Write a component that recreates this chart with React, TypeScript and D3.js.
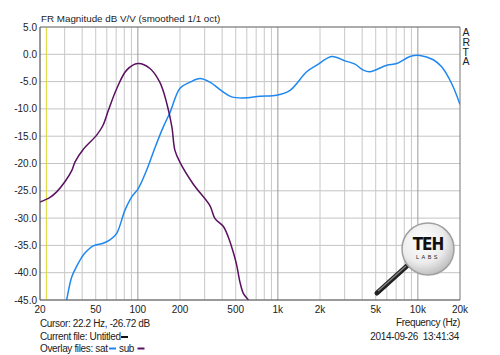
import React from "react";
import * as d3 from "d3";

const subFreq = [20, 23.6, 26.3, 30.2, 33.7, 35.6, 40.8, 50.8, 56.4, 61.5, 70.6, 83.2, 100, 122, 144, 161, 175, 184, 200, 249, 327, 356, 407, 443, 481, 508, 537, 567, 615, 650];
const subDb = [-27.05, -26.2, -25.2, -23.3, -21.3, -19.7, -17.4, -14.8, -13.0, -10.3, -6.3, -2.9, -1.7, -2.6, -5.2, -9.0, -13.3, -17.6, -19.8, -23.8, -27.7, -30.1, -31.5, -33.5, -36.3, -38.6, -41.8, -43.8, -45.0, -46];

const satFreq = [29.5, 31.0, 33.7, 36.6, 39.7, 41.9, 48.0, 56.6, 63.2, 70.6, 81, 90.4, 100.6, 115.6, 132.5, 152, 170, 200, 236, 278, 327, 397, 468, 567, 745, 980, 1222, 1607, 1894, 2427, 3020, 3557, 4075, 4550, 5990, 7060, 8790, 10350, 12890, 14790, 17460, 20000];
const satDb = [-48, -45, -40.8, -38.8, -37.2, -36.4, -35.1, -34.6, -34.0, -32.8, -28.5, -26.1, -24.6, -21.2, -17.1, -13.3, -10.6, -6.2, -5.1, -4.45, -5.1, -6.7, -7.8, -8.0, -7.7, -7.5, -6.6, -3.2, -2.0, -0.4, -1.2, -1.8, -2.9, -3.2, -2.0, -1.7, -0.4, -0.2, -1.0, -2.3, -5.4, -9.2];

const yTicks = [5, 0, -5, -10, -15, -20, -25, -30, -35, -40, -45];
const xTickVals = [20, 50, 100, 200, 500, 1000, 2000, 5000, 10000, 20000];
const xTickLabels = ["20", "50", "100", "200", "500", "1k", "2k", "5k", "10k", "20k"];

const title = "FR Magnitude dB V/V (smoothed 1/1 oct)";
const cursorFreq = 22.2;
const artaLetters = ["A", "R", "T", "A"];

const L = 40, R = 460, T = 27, B = 300;
const FONT = "'Liberation Sans', Arial, sans-serif";
const BLUE = "#1e88f0";
const PURPLE = "#5a1060";

export default function App() {
  const x = d3.scaleLog().domain([20, 20000]).range([L, R]);
  const y = d3.scaleLinear().domain([5, -45]).range([T, B]);

  const gridF: number[] = [];
  for (const dec of [10, 100, 1000, 10000]) {
    for (let m = 1; m <= 9; m++) {
      const f = dec * m;
      if (f > 20 && f < 20000) gridF.push(f);
    }
  }
  const isDecade = (f: number) => Math.abs(Math.log10(f) - Math.round(Math.log10(f))) < 1e-9;

  const line = d3
    .line<[number, number]>()
    .x((d) => x(d[0]))
    .y((d) => y(d[1]))
    .curve(d3.curveCatmullRom.alpha(0.5));

  const subPath = line(subFreq.map((f, i) => [f, subDb[i]] as [number, number])) || "";
  const satPath = line(satFreq.map((f, i) => [f, satDb[i]] as [number, number])) || "";

  const bt = { fontSize: 10, letterSpacing: -0.35, fill: "#222" } as const;

  return (
    <div style={{ position: "absolute", left: 0, top: 0 }}>
      <svg width={500} height={355} style={{ display: "block", background: "#fff" }} fontFamily={FONT}>
        <defs>
          <clipPath id="plotclip">
            <rect x={L} y={T} width={R - L} height={B - T} />
          </clipPath>
          <radialGradient id="lens" cx="40%" cy="35%" r="70%">
            <stop offset="0%" stopColor="#ffffff" />
            <stop offset="60%" stopColor="#ececec" />
            <stop offset="100%" stopColor="#b8b8b8" />
          </radialGradient>
        </defs>

        {yTicks.map((v) => (
          <line key={"h" + v} x1={L} x2={R} y1={y(v)} y2={y(v)} stroke="#c4c4c4" strokeWidth={1} />
        ))}
        {gridF.map((f) => (
          <line
            key={"v" + f}
            x1={x(f)}
            x2={x(f)}
            y1={T}
            y2={B}
            stroke={isDecade(f) ? "#9a9a9a" : "#c8c8c8"}
            strokeWidth={1}
          />
        ))}

        <g>
          <line x1={377} y1={293} x2={408} y2={265} stroke="#222" strokeWidth={5} strokeLinecap="round" />
          <line x1={378} y1={291} x2={406} y2={266} stroke="#888" strokeWidth={1.2} />
          <circle cx={428} cy={249} r={26} fill="url(#lens)" stroke="#a0a0a0" strokeWidth={1.5} />
          <text x={428} y={250} textAnchor="middle" fontFamily="'DejaVu Sans Condensed', 'DejaVu Sans', sans-serif" fontWeight="bold" fontSize={17} fill="#111" letterSpacing={-1}>
            TEH
          </text>
          <text x={428} y={259} textAnchor="middle" fontSize={5.5} fill="#222" letterSpacing={2.5}>
            LABS
          </text>
        </g>

        <line x1={x(cursorFreq)} x2={x(cursorFreq)} y1={T} y2={B} stroke="#d8d830" strokeWidth={1} />

        <g clipPath="url(#plotclip)">
          <path d={satPath} fill="none" stroke={BLUE} strokeWidth={1.5} />
          <path d={subPath} fill="none" stroke={PURPLE} strokeWidth={1.5} />
        </g>

        <line x1={L} x2={R} y1={T} y2={T} stroke="#777" strokeWidth={1} />
        <line x1={R} x2={R} y1={T} y2={B} stroke="#777" strokeWidth={1} />
        <line x1={L} x2={L} y1={T} y2={B} stroke="#555" strokeWidth={1.2} />
        <line x1={L} x2={R} y1={B} y2={B} stroke="#555" strokeWidth={1.2} />

        {yTicks.map((v) => (
          <text key={"yt" + v} x={37} y={y(v) + 3.5} textAnchor="end" fontSize={10} fill="#222">
            {v.toFixed(1)}
          </text>
        ))}
        {xTickVals.map((f, i) => (
          <text key={"xt" + f} x={x(f)} y={313} textAnchor="middle" fontSize={10} fill="#222">
            {xTickLabels[i]}
          </text>
        ))}

        <text x={41} y={22} fontSize={9.8} fill="#222">
          {title}
        </text>

        {artaLetters.map((c, i) => (
          <text key={"a" + i} x={462.5} y={36 + i * 9.8} fontSize={10.5} fill="#222">
            {c}
          </text>
        ))}

        <text x={40} y={327} {...bt}>Cursor: 22.2 Hz, -26.72 dB</text>
        <text x={40} y={340} {...bt}>Current file: Untitled</text>
        <line x1={121} x2={128} y1={337} y2={337} stroke="#111" strokeWidth={2} />
        <text x={40} y={352} {...bt}>Overlay files: sat</text>
        <line x1={109} x2={116} y1={348.5} y2={348.5} stroke={BLUE} strokeWidth={2} />
        <text x={119} y={352} {...bt}>sub</text>
        <line x1={137.5} x2={144.5} y1={348.5} y2={348.5} stroke={PURPLE} strokeWidth={2} />

        <text x={460} y={326} textAnchor="end" {...bt}>Frequency (Hz)</text>
        <text x={459} y={340} textAnchor="end" {...bt} style={{ whiteSpace: "pre" }}>
          2014-09-26  13:41:34
        </text>
      </svg>
    </div>
  );
}
